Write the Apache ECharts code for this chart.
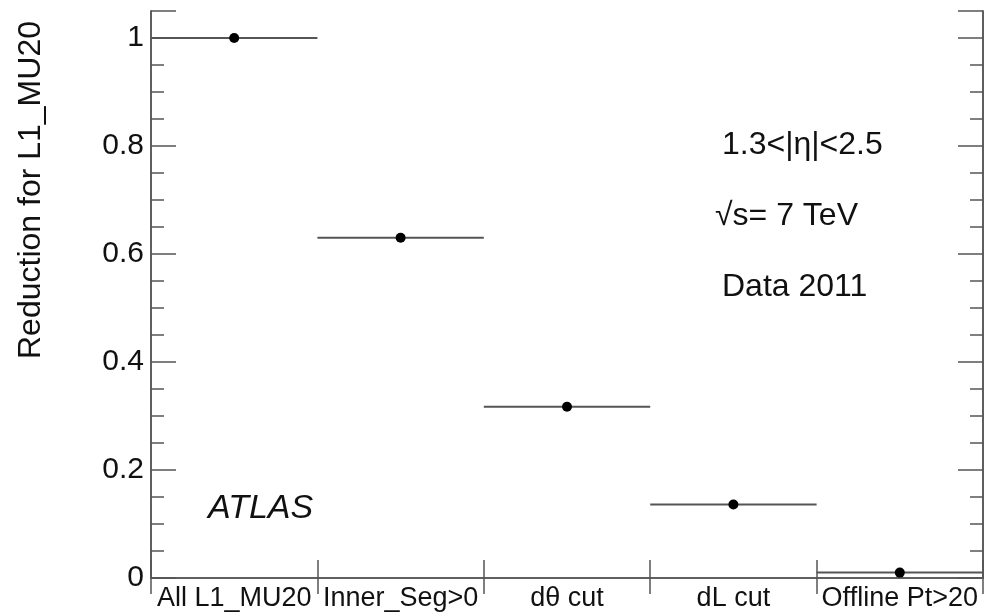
<!DOCTYPE html>
<html>
<head>
<meta charset="utf-8">
<script src="https://cdn.jsdelivr.net/npm/echarts@6/dist/echarts.min.js"></script>
<style>
html,body{margin:0;padding:0;background:#fff;}
#chart{width:984px;height:613px;}
</style>
</head>
<body>
<div id="chart"></div>
<script>
const categories = ['All L1_MU20', 'Inner_Seg>0', 'd\u03B8 cut', 'dL cut', 'Offline Pt>20'];
const reduction = [1.0, 0.63, 0.317, 0.136, 0.01];
const yTitle = 'Reduction for L1_MU20';
const notes = ['1.3<|\u03B7|<2.5', '\u221As= 7 TeV', 'Data 2011'];
const atlasLabel = 'ATLAS';

const FONT = '"Liberation Sans", Arial, Helvetica, sans-serif';
const AX = '#555';

const chart = echarts.init(document.getElementById('chart'), null, {renderer: 'canvas'});

const seriesData = reduction.map((v, i) => [i, v]);

function yAx(pos, interval, len, labels) {
  return {
    type: 'value', position: pos, min: 0, max: 1.05, interval: interval,
    axisLine: {show: true, lineStyle: {color: AX, width: 1.5}},
    axisTick: {show: true, inside: true, length: len, lineStyle: {color: AX, width: 1.5}},
    splitLine: {show: false},
    axisLabel: labels ? {
      show: true, fontFamily: FONT, fontSize: 30, color: '#111', margin: 7,
      formatter: v => (v > 1.001 ? '' : String(+v.toFixed(2)))
    } : {show: false}
  };
}

const option = {
  animation: false,
  backgroundColor: '#fff',
  grid: {left: 151, right: 1, top: 11, bottom: 35},
  xAxis: [
    {
      type: 'category', position: 'bottom', data: categories, boundaryGap: true,
      axisLine: {show: true, lineStyle: {color: AX, width: 1.5}},
      axisTick: {show: true, inside: true, length: 18, interval: 0, lineStyle: {color: AX, width: 1.5}},
      axisLabel: {show: true, interval: 0, fontFamily: FONT, fontSize: 27, color: '#111', margin: 7},
      splitLine: {show: false}
    },
    {
      type: 'category', position: 'top', data: categories, boundaryGap: true,
      axisLine: {show: true, lineStyle: {color: AX, width: 1.5}},
      axisTick: {show: true, inside: true, length: 16, interval: 0, lineStyle: {color: AX, width: 1.5}},
      axisLabel: {show: false},
      splitLine: {show: false}
    }
  ],
  yAxis: [
    yAx('left', 0.2, 25, true),
    yAx('left', 0.05, 13, false),
    yAx('right', 0.2, 25, false),
    yAx('right', 0.05, 13, false)
  ],
  series: [{
    type: 'custom',
    xAxisIndex: 0,
    yAxisIndex: 0,
    data: seriesData,
    clip: false,
    renderItem: function (params, api) {
      const c = api.coord([api.value(0), api.value(1)]);
      const w = api.size([1, 0])[0];
      return {
        type: 'group',
        children: [
          {type: 'line', shape: {x1: c[0] - w / 2, y1: c[1], x2: c[0] + w / 2, y2: c[1]},
           style: {stroke: '#555', lineWidth: 2}},
          {type: 'circle', shape: {cx: c[0], cy: c[1], r: 5}, style: {fill: '#000'}}
        ]
      };
    }
  }],
  graphic: [
    {type: 'text', x: 31, y: 190, rotation: Math.PI / 2,
     style: {text: yTitle, font: '32px ' + FONT, fill: '#111', align: 'center', verticalAlign: 'middle'}},
    {type: 'text', x: 722, y: 145,
     style: {text: notes[0], font: '32px ' + FONT, fill: '#111', align: 'left', verticalAlign: 'middle'}},
    {type: 'text', x: 715, y: 216,
     style: {text: notes[1], font: '32px ' + FONT, fill: '#111', align: 'left', verticalAlign: 'middle'}},
    {type: 'text', x: 722, y: 287,
     style: {text: notes[2], font: '32px ' + FONT, fill: '#111', align: 'left', verticalAlign: 'middle'}},
    {type: 'text', x: 208, y: 509,
     style: {text: atlasLabel, font: 'italic 34px ' + FONT, fill: '#111', align: 'left', verticalAlign: 'middle'}}
  ]
};
chart.setOption(option);
</script>
</body>
</html>
